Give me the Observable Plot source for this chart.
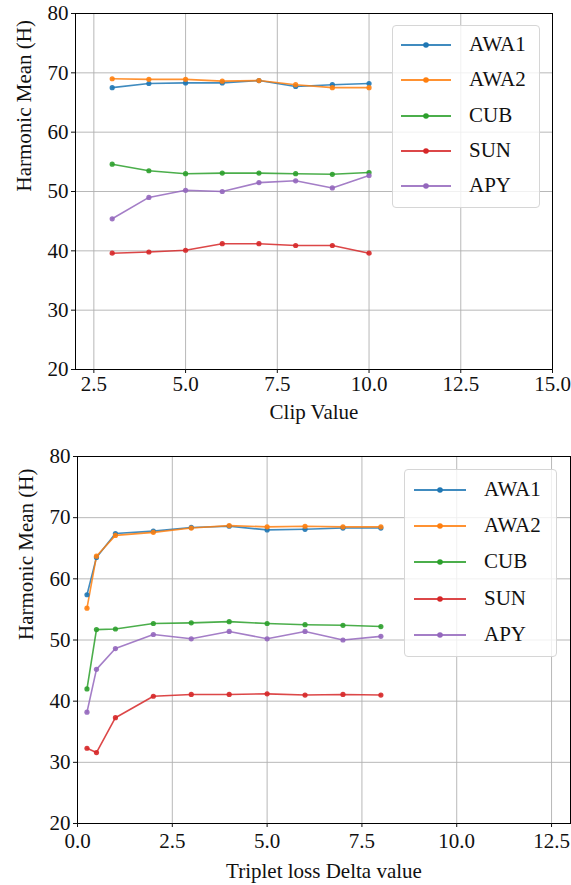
<!DOCTYPE html>
<html>
<head>
<meta charset="utf-8">
<script src="https://cdn.jsdelivr.net/npm/d3@7"></script>
<script src="https://cdn.jsdelivr.net/npm/@observablehq/plot@0.6"></script>
<style>
  html, body { margin: 0; padding: 0; background: white; }
  body { width: 571px; height: 885px; overflow: hidden; font-family: "Liberation Serif", "DejaVu Serif", serif; }
  .panel { position: relative; width: 571px; }
  .legend { position: absolute; border: 1px solid #d6d6d6; border-radius: 4px; background: rgba(255,255,255,0.8); box-sizing: border-box; }
  .legend svg { position: absolute; overflow: visible; }
  .legend span { position: absolute; font-family: "Liberation Serif", serif; font-size: 21px; line-height: 1; white-space: nowrap; color: #111; }
</style>
</head>
<body>
<div id="top" class="panel"></div>
<div id="bottom" class="panel"></div>
<script>
const series = ["AWA1", "AWA2", "CUB", "SUN", "APY"];
const colors = ["#1f77b4", "#ff7f0e", "#2ca02c", "#d62728", "#9467bd"];
const yTicks = [20, 30, 40, 50, 60, 70, 80];

// Panel 1: Clip Value
const clipX = [3, 4, 5, 6, 7, 8, 9, 10];
const clipAWA1 = [67.5, 68.2, 68.3, 68.3, 68.7, 67.7, 68.0, 68.2];
const clipAWA2 = [69.0, 68.9, 68.9, 68.6, 68.7, 68.0, 67.5, 67.5];
const clipCUB  = [54.6, 53.5, 53.0, 53.1, 53.1, 53.0, 52.9, 53.2];
const clipSUN  = [39.6, 39.8, 40.1, 41.2, 41.2, 40.9, 40.9, 39.6];
const clipAPY  = [45.4, 49.0, 50.2, 50.0, 51.5, 51.8, 50.6, 52.7];
const clipTicks = [2.5, 5, 7.5, 10, 12.5, 15];

// Panel 2: Triplet loss Delta value
const deltaX = [0.25, 0.5, 1, 2, 3, 4, 5, 6, 7, 8];
const deltaAWA1 = [57.4, 63.5, 67.4, 67.8, 68.4, 68.6, 68.0, 68.1, 68.3, 68.3];
const deltaAWA2 = [55.2, 63.7, 67.1, 67.6, 68.3, 68.7, 68.5, 68.6, 68.5, 68.5];
const deltaCUB  = [42.0, 51.7, 51.8, 52.7, 52.8, 53.0, 52.7, 52.5, 52.4, 52.2];
const deltaSUN  = [32.3, 31.6, 37.3, 40.8, 41.1, 41.1, 41.2, 41.0, 41.1, 41.0];
const deltaAPY  = [38.2, 45.2, 48.6, 50.9, 50.2, 51.4, 50.2, 51.4, 50.0, 50.6];
const deltaTicks = [0, 2.5, 5, 7.5, 10, 12.5];

const FONT = "Liberation Serif";

function longData(xs, arrays) {
  const out = [];
  series.forEach((s, i) => arrays[i].forEach((v, j) => out.push({series: s, x: xs[j], y: v})));
  return out;
}

function makeChart(opts) {
  const data = longData(opts.xs, opts.arrays);
  return Plot.plot({
    width: 571,
    height: opts.height,
    marginTop: opts.mt,
    marginBottom: opts.mb,
    marginLeft: opts.ml,
    marginRight: opts.mr,
    style: {fontFamily: FONT, fontSize: "21px", background: "white", color: "#111", overflow: "visible"},
    x: {domain: opts.xDomain, ticks: opts.xTicks, tickFormat: d => d.toFixed(1), label: null},
    y: {domain: [20, 80], ticks: yTicks, label: null},
    color: {domain: series, range: colors},
    marks: [
      Plot.gridX(opts.xTicks, {stroke: "#b0b0b0", strokeOpacity: 1, strokeWidth: 0.9}),
      Plot.gridY(yTicks, {stroke: "#b0b0b0", strokeOpacity: 1, strokeWidth: 0.9}),
      Plot.lineY(data, {x: "x", y: "y", z: "series", stroke: "series", strokeWidth: 1.6, strokeOpacity: 0.85}),
      Plot.dot(data, {x: "x", y: "y", fill: "series", r: 2.6, fillOpacity: 0.9}),
      Plot.frame({stroke: "#000", strokeWidth: 1}),
      Plot.axisX({ticks: opts.xTicks, tickFormat: d => d.toFixed(1), tickSize: 4, tickPadding: opts.xPad, label: null, fontSize: 21, fontFamily: FONT}),
      Plot.axisY({ticks: yTicks, tickSize: 4, tickPadding: 3, label: null, fontSize: 21, fontFamily: FONT}),
      Plot.text([opts.xLabel], {frameAnchor: "bottom", dy: opts.xLabelDy, text: d => d, fontSize: 21, fontFamily: FONT}),
      Plot.text(["Harmonic Mean (H)"], {frameAnchor: "left", dx: -51, rotate: -90, text: d => d, fontSize: 21, fontFamily: FONT})
    ]
  });
}

function addLegend(panel, box) {
  const lg = document.createElement("div");
  lg.className = "legend";
  lg.style.left = box.left + "px";
  lg.style.top = box.top + "px";
  lg.style.width = box.width + "px";
  lg.style.height = box.height + "px";
  series.forEach((s, i) => {
    const cy = box.first + i * box.step;
    const ns = "http://www.w3.org/2000/svg";
    const svg = document.createElementNS(ns, "svg");
    svg.setAttribute("width", 60);
    svg.setAttribute("height", 10);
    svg.style.left = (box.lineX0 - 5) + "px";
    svg.style.top = (cy - 5) + "px";
    const ln = document.createElementNS(ns, "line");
    ln.setAttribute("x1", 5); ln.setAttribute("x2", 5 + box.lineLen);
    ln.setAttribute("y1", 5); ln.setAttribute("y2", 5);
    ln.setAttribute("stroke", colors[i]); ln.setAttribute("stroke-width", 1.8); ln.setAttribute("stroke-opacity", 0.85);
    const c = document.createElementNS(ns, "circle");
    c.setAttribute("cx", 5 + box.lineLen / 2); c.setAttribute("cy", 5); c.setAttribute("r", 2.8);
    c.setAttribute("fill", colors[i]);
    svg.appendChild(ln); svg.appendChild(c);
    lg.appendChild(svg);
    const sp = document.createElement("span");
    sp.textContent = s;
    sp.style.left = box.textX + "px";
    sp.style.top = (cy - 11) + "px";
    lg.appendChild(sp);
  });
  panel.appendChild(lg);
}

const topPanel = document.getElementById("top");
topPanel.appendChild(makeChart({
  xs: clipX, arrays: [clipAWA1, clipAWA2, clipCUB, clipSUN, clipAPY],
  height: 440, mt: 13, mb: 71, ml: 75, mr: 19,
  xDomain: [2, 15], xTicks: clipTicks, xPad: 3, xLabel: "Clip Value", xLabelDy: 49
}));
addLegend(topPanel, {left: 392, top: 25, width: 148, height: 183, first: 19, step: 35.3, lineX0: 8, lineLen: 50, textX: 76});

const bottomPanel = document.getElementById("bottom");
bottomPanel.appendChild(makeChart({
  xs: deltaX, arrays: [deltaAWA1, deltaAWA2, deltaCUB, deltaSUN, deltaAPY],
  height: 445, mt: 16, mb: 62, ml: 77, mr: 1,
  xDomain: [0, 13], xTicks: deltaTicks, xPad: 6, xLabel: "Triplet loss Delta value", xLabelDy: 54
}));
addLegend(bottomPanel, {left: 404, top: 29, width: 153, height: 188, first: 20, step: 36.2, lineX0: 9, lineLen: 52, textX: 79});
</script>
</body>
</html>
